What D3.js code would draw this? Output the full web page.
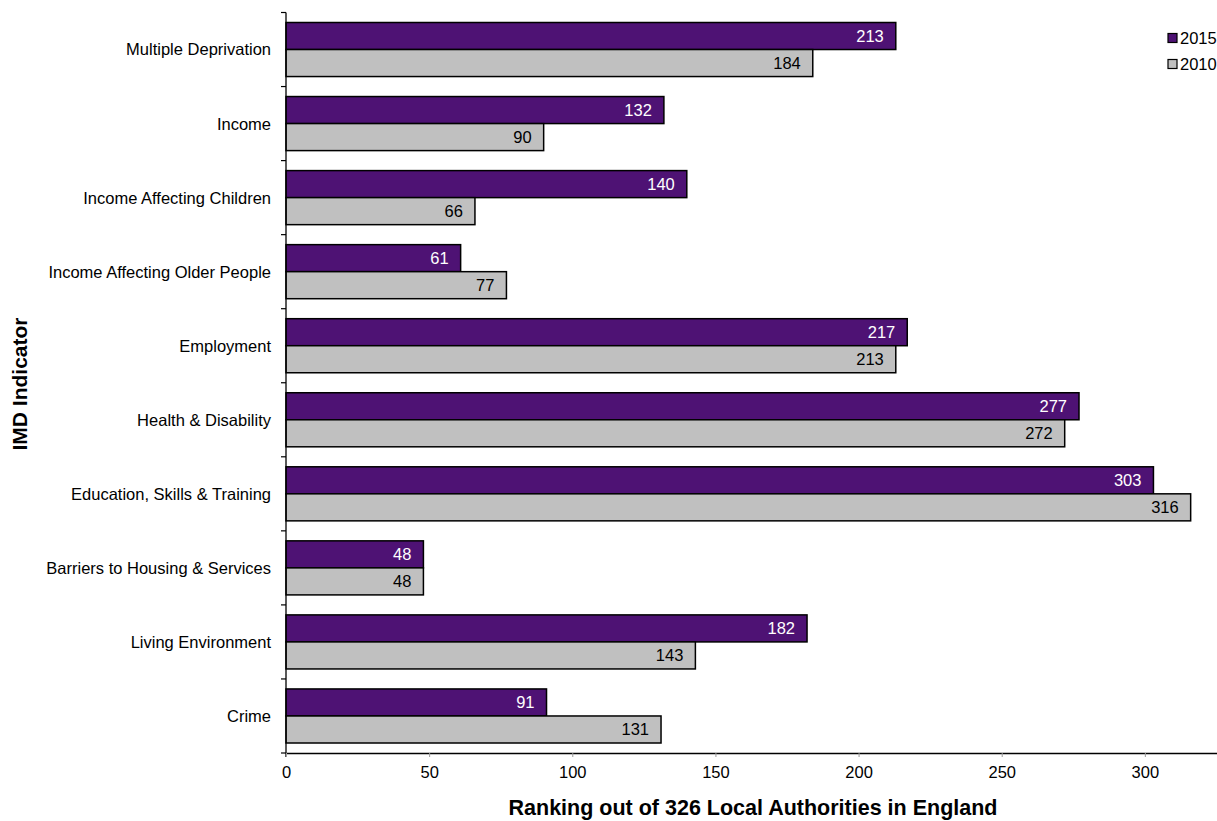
<!DOCTYPE html>
<html><head><meta charset="utf-8">
<script src="https://cdn.jsdelivr.net/npm/d3@7"></script>
<style>body{margin:0;background:#fff}svg{display:block;font-family:"Liberation Sans",Arial,sans-serif}</style>
</head><body><svg id="c" width="1217" height="821"></svg>
<script>
const categories = ["Multiple Deprivation","Income","Income Affecting Children","Income Affecting Older People","Employment","Health & Disability","Education, Skills & Training","Barriers to Housing & Services","Living Environment","Crime"];
const values2015 = [213,132,140,61,217,277,303,48,182,91];
const values2010 = [184,90,66,77,213,272,316,48,143,131];
const seriesNames = ["2015","2010"];
const xTicks = [0,50,100,150,200,250,300];
const colors = {"2015":"#4E1274","2010":"#C0C0C0"};
const labelColors = {"2015":"#ffffff","2010":"#000000"};

const svg = d3.select("#c");
const x = d3.scaleLinear().domain([0,350]).range([286,1288]);
const y = d3.scaleBand().domain(categories).range([12.5,753]).paddingInner(0.27).paddingOuter(0.135);
const sub = d3.scaleBand().domain(seriesNames).range([0,y.bandwidth()]);

const data = categories.map((c,i)=>({cat:c, vals:[{s:"2015",v:values2015[i]},{s:"2010",v:values2010[i]}]}));

const g = svg.append("g");
const grp = g.selectAll("g.cat").data(data).join("g").attr("transform",d=>`translate(0,${y(d.cat)})`);
grp.selectAll("rect").data(d=>d.vals).join("rect")
  .attr("x",x(0)).attr("y",d=>sub(d.s)).attr("width",d=>x(d.v)-x(0)).attr("height",sub.bandwidth())
  .attr("fill",d=>colors[d.s]).attr("stroke","#000").attr("stroke-width",1.5);
grp.selectAll("text").data(d=>d.vals).join("text")
  .attr("x",d=>x(d.v)-12).attr("y",d=>sub(d.s)+sub.bandwidth()/2).attr("dy","0.36em")
  .attr("text-anchor","end").attr("font-size",16.5).attr("fill",d=>labelColors[d.s]).text(d=>d.v);

// y axis
const step = y.step();
const yTickPos = [y.range()[0]].concat(categories.map(c=>y(c)+y.bandwidth()+step*y.paddingInner()/2));
yTickPos[yTickPos.length-1] = 753;
svg.append("line").attr("x1",x(0)).attr("x2",x(0)).attr("y1",yTickPos[0]).attr("y2",757).attr("stroke","#000").attr("stroke-width",1.3);
svg.selectAll("line.yt").data(yTickPos).join("line").attr("class","yt")
  .attr("x1",x(0)-5).attr("x2",x(0)).attr("y1",d=>d).attr("y2",d=>d).attr("stroke","#000").attr("stroke-width",1.2);
svg.selectAll("text.cl").data(categories).join("text").attr("class","cl")
  .attr("x",x(0)-15).attr("y",d=>y(d)+y.bandwidth()/2).attr("dy","0.36em").attr("text-anchor","end")
  .attr("font-size",16.5).text(d=>d);

// x axis
const xa = svg.append("g").attr("transform","translate(0,753)")
  .call(d3.axisBottom(x).tickValues(xTicks).tickSize(4).tickPadding(9).tickSizeOuter(0));
xa.select(".domain").attr("stroke","#000").attr("stroke-width",1.5);
xa.selectAll(".tick line").attr("stroke","#999");
xa.selectAll(".tick text").attr("font-size",16.5).attr("font-family","Liberation Sans, Arial, sans-serif").attr("fill","#000");

svg.append("text").attr("x",753).attr("y",815).attr("text-anchor","middle").attr("font-size",21.5).attr("font-weight","bold").text("Ranking out of 326 Local Authorities in England");
svg.append("text").attr("transform","translate(27,384) rotate(-90)").attr("text-anchor","middle").attr("font-size",21).attr("font-weight","bold").text("IMD Indicator");

// legend
const lg = svg.selectAll("g.lg").data(seriesNames).join("g").attr("class","lg").attr("transform",(d,i)=>`translate(1168,${38+i*26})`);
lg.append("rect").attr("x",0).attr("y",-4.5).attr("width",9).attr("height",9).attr("fill",d=>colors[d]).attr("stroke","#000").attr("stroke-width",1.2);
lg.append("text").attr("x",12).attr("y",0).attr("dy","0.36em").attr("font-size",16.5).text(d=>d);
</script></body></html>
